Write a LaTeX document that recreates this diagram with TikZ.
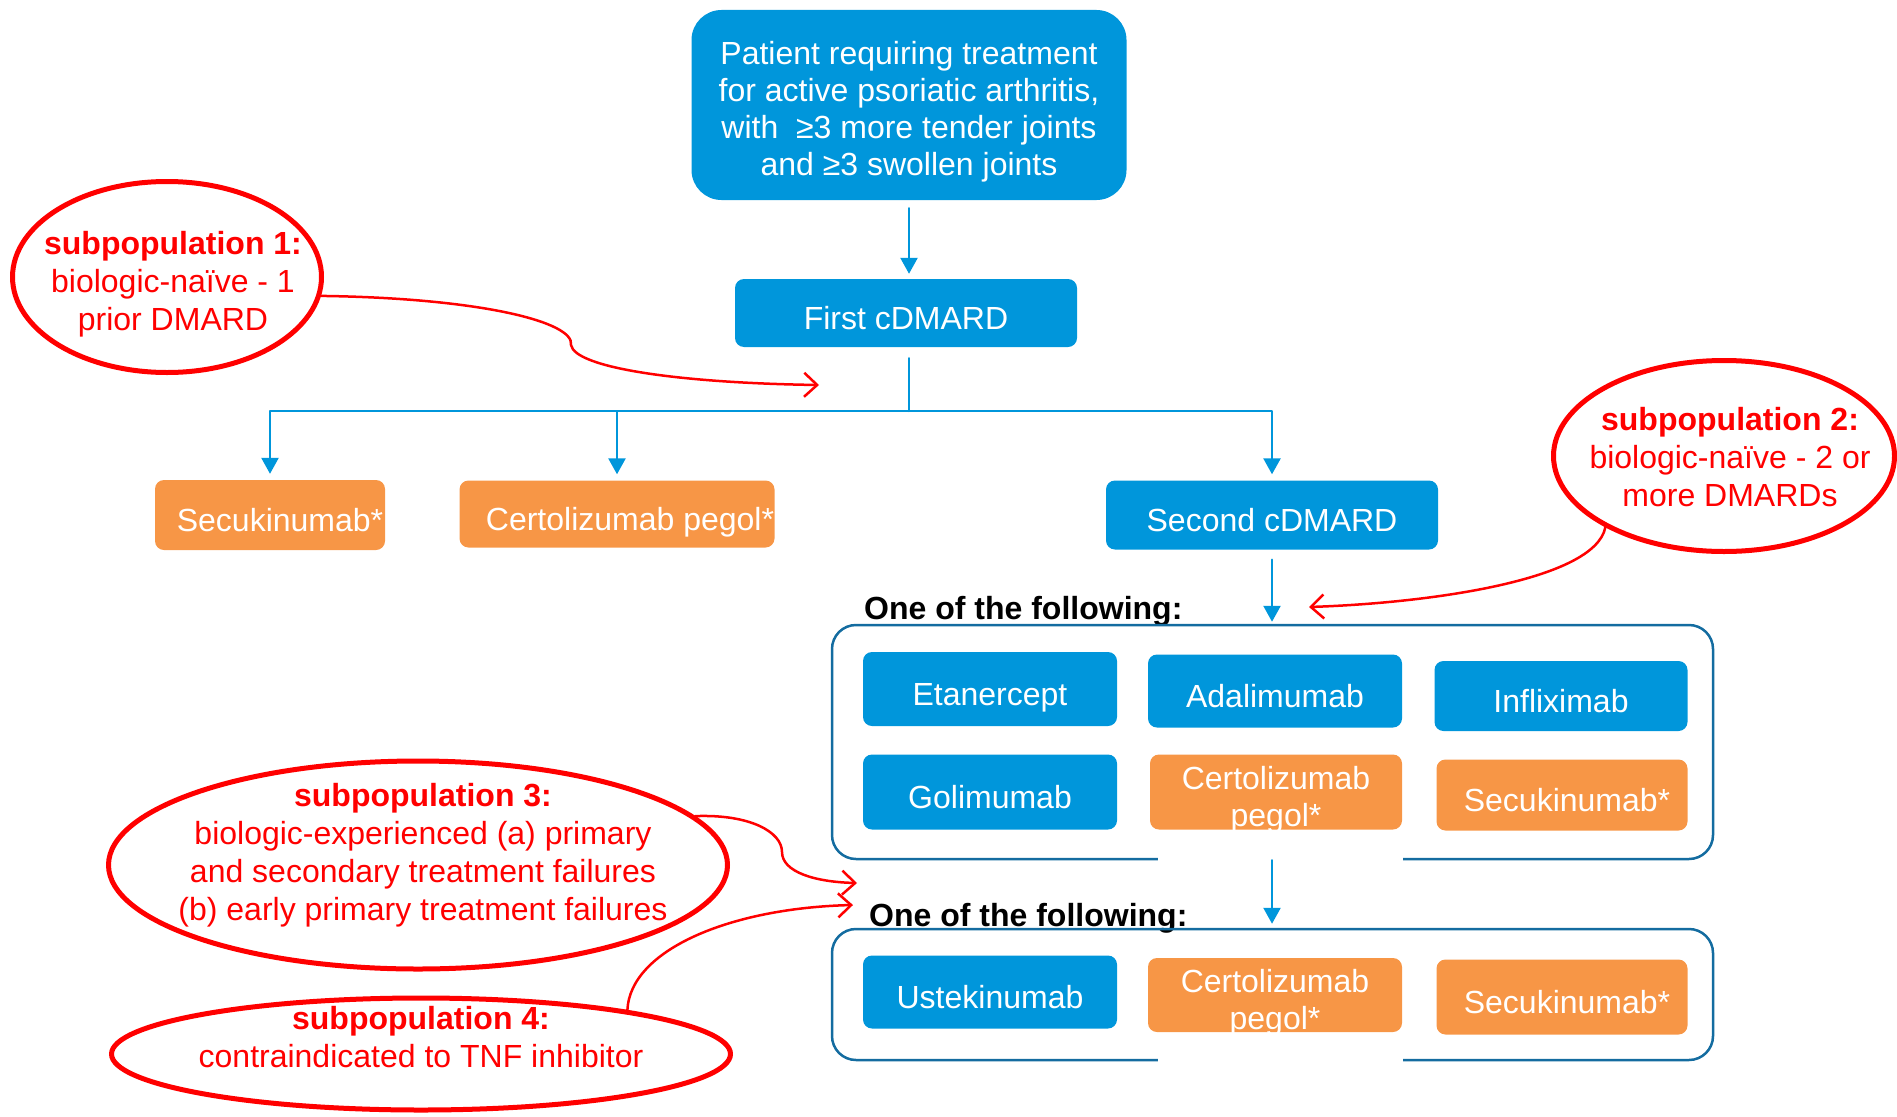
\documentclass[tikz,border=0pt]{standalone}
\usepackage{fontspec}
\setmainfont{Liberation Sans}
\usetikzlibrary{arrows.meta,shapes.geometric}
\definecolor{Bfill}{RGB}{0,150,219}
\definecolor{Ofill}{RGB}{247,150,70}
\definecolor{Rline}{RGB}{255,0,0}
\definecolor{Fline}{RGB}{20,108,160}

\begin{document}
\begin{tikzpicture}[x=1pt,y=-1pt,line cap=round,line join=round,
  blue box/.style={rectangle,rounded corners=9pt,fill=Bfill,text=white,inner sep=0pt,align=center,
    text height=32pt,text depth=0pt,font=\fontsize{32}{37}\selectfont},
  orange box/.style={blue box,fill=Ofill},
  two lines/.style={text height=69pt,text depth=0pt},
  group frame/.style={rectangle,draw=Fline,line width=2.5pt,rounded corners=24pt,inner sep=0pt},
  subpop/.style={ellipse,draw=Rline,line width=5pt,inner sep=0pt},
  subtext/.style={text=Rline,align=center,inner sep=0pt,font=\fontsize{32}{38}\selectfont},
  heading/.style={anchor=base west,inner sep=0pt,font=\bfseries\fontsize{32}{37}\selectfont},
  flow/.style={draw=Bfill,line width=2.5pt,-{Triangle[length=16pt,width=17pt]}},
  pointer/.style={draw=Rline,line width=2.5pt,-{Straight Barb[length=13pt,width=24pt]}}]
\path[use as bounding box] (0,0) rectangle (1897,1116);
% main path
\node[blue box,rounded corners=30pt,minimum width=435pt,minimum height=190pt,text height=140pt] (patient) at (909,105) {Patient requiring treatment\\for active psoriatic arthritis,\\with~ ≥3 more tender joints\\and ≥3 swollen joints};
\node[blue box,minimum width=342pt,minimum height=68pt] (first) at (906,313) {First cDMARD};
\node[orange box,minimum width=230pt,minimum height=70pt] (secuk1) at (270,515) {\hspace*{20pt}Secukinumab*};
\node[orange box,minimum width=315pt,minimum height=67pt] (certo1) at (617,514) {\hspace*{26pt}Certolizumab pegol*};
\node[blue box,minimum width=332pt,minimum height=69pt] (second) at (1272,515) {Second cDMARD};
% first group
\node[heading] (oneA) at (864,619) {One of the following:};
\node[group frame,minimum width=881pt,minimum height=234pt] (groupA) at (1272.5,742) {};
\node[blue box,minimum width=254pt,minimum height=74pt] (etan) at (990,689) {Etanercept};
\node[blue box,minimum width=254pt,minimum height=73pt] (adal) at (1275,691) {Adalimumab};
\node[blue box,minimum width=253pt,minimum height=70pt] (infl) at (1561,696) {Infliximab};
\node[blue box,minimum width=254pt,minimum height=75pt] (goli) at (990,792) {Golimumab};
\node[orange box,two lines,minimum width=252pt,minimum height=75pt] (certo2) at (1276,792) {Certolizumab\\pegol*};
\node[orange box,minimum width=251pt,minimum height=71pt] (secuk2) at (1562,795) {\hspace*{10pt}Secukinumab*};
% second group
\node[heading] (oneB) at (869,926) {One of the following:};
\node[group frame,minimum width=881pt,minimum height=131pt] (groupB) at (1272.5,994.5) {};
\node[blue box,minimum width=254pt,minimum height=73pt] (ustek) at (990,992) {Ustekinumab};
\node[orange box,two lines,minimum width=254pt,minimum height=74pt] (certo3) at (1275,995) {Certolizumab\\pegol*};
\node[orange box,minimum width=251pt,minimum height=75pt] (secuk3) at (1562,997) {\hspace*{10pt}Secukinumab*};
\fill[white] (1158,850) rectangle (1403,870);
\fill[white] (1158,1051) rectangle (1403,1070);
% blue arrows
\coordinate (split) at (909,411);
\draw[flow,shorten <=8pt,shorten >=5pt] (patient.south) -- (patient.south |- first.north);
\draw[draw=Bfill,line width=2.5pt,shorten <=11pt] (split |- first.south) -- (split);
\foreach \target in {secuk1,certo1,second}
  \draw[flow,shorten >=6pt] (split) -| (\target.north);
\draw[flow,shorten <=10pt,shorten >=2pt] (second.south) -- (second.south |- groupA.north);
\draw[flow,shorten >=4pt] (second.south |- groupA.south) -- (second.south |- groupB.north);
% subpopulations
\node[subpop,minimum width=309pt,minimum height=191pt] (sub1) at (167,277) {};
\node[subpop,minimum width=341pt,minimum height=191pt] (sub2) at (1724,456) {};
\node[subpop,minimum width=619pt,minimum height=208pt] (sub3) at (418,865) {};
\node[subpop,minimum width=619pt,minimum height=112pt] (sub4) at (421,1054) {};
\node[subtext] (sub1text) at (173,284) {\textbf{subpopulation 1:}\\biologic-naïve - 1\\prior DMARD};
\node[subtext] (sub2text) at (1730,457) {\textbf{subpopulation 2:}\\biologic-naïve - 2 or\\more DMARDs};
\node[subtext] (sub3text) at (423,855) {\textbf{subpopulation 3:}\\biologic-experienced (a) primary\\and secondary treatment failures\\(b) early primary treatment failures};
\node[subtext] (sub4text) at (421,1037) {\textbf{subpopulation 4:}\\contraindicated to TNF inhibitor};
% red pointers
\coordinate (tip1) at (819,385);
\coordinate (tip2) at (1309,607);
\coordinate (tip3) at (857,883);
\coordinate (tip4) at (853,905);
\draw[pointer] (sub1.-7) .. controls (480,298) and (575,322) .. (571,345) .. controls (575,368) and (680,383) .. (tip1);
\draw[pointer] (sub2.211) .. controls (1595,580) and (1430,603) .. (tip2);
\draw[pointer] (sub3.10) .. controls (750,814) and (782,832) .. (782,852) .. controls (782,872) and (815,882) .. (tip3);
\draw[pointer] (sub4.12) .. controls (630,950) and (730,908) .. (tip4);
\end{tikzpicture}
\end{document}
